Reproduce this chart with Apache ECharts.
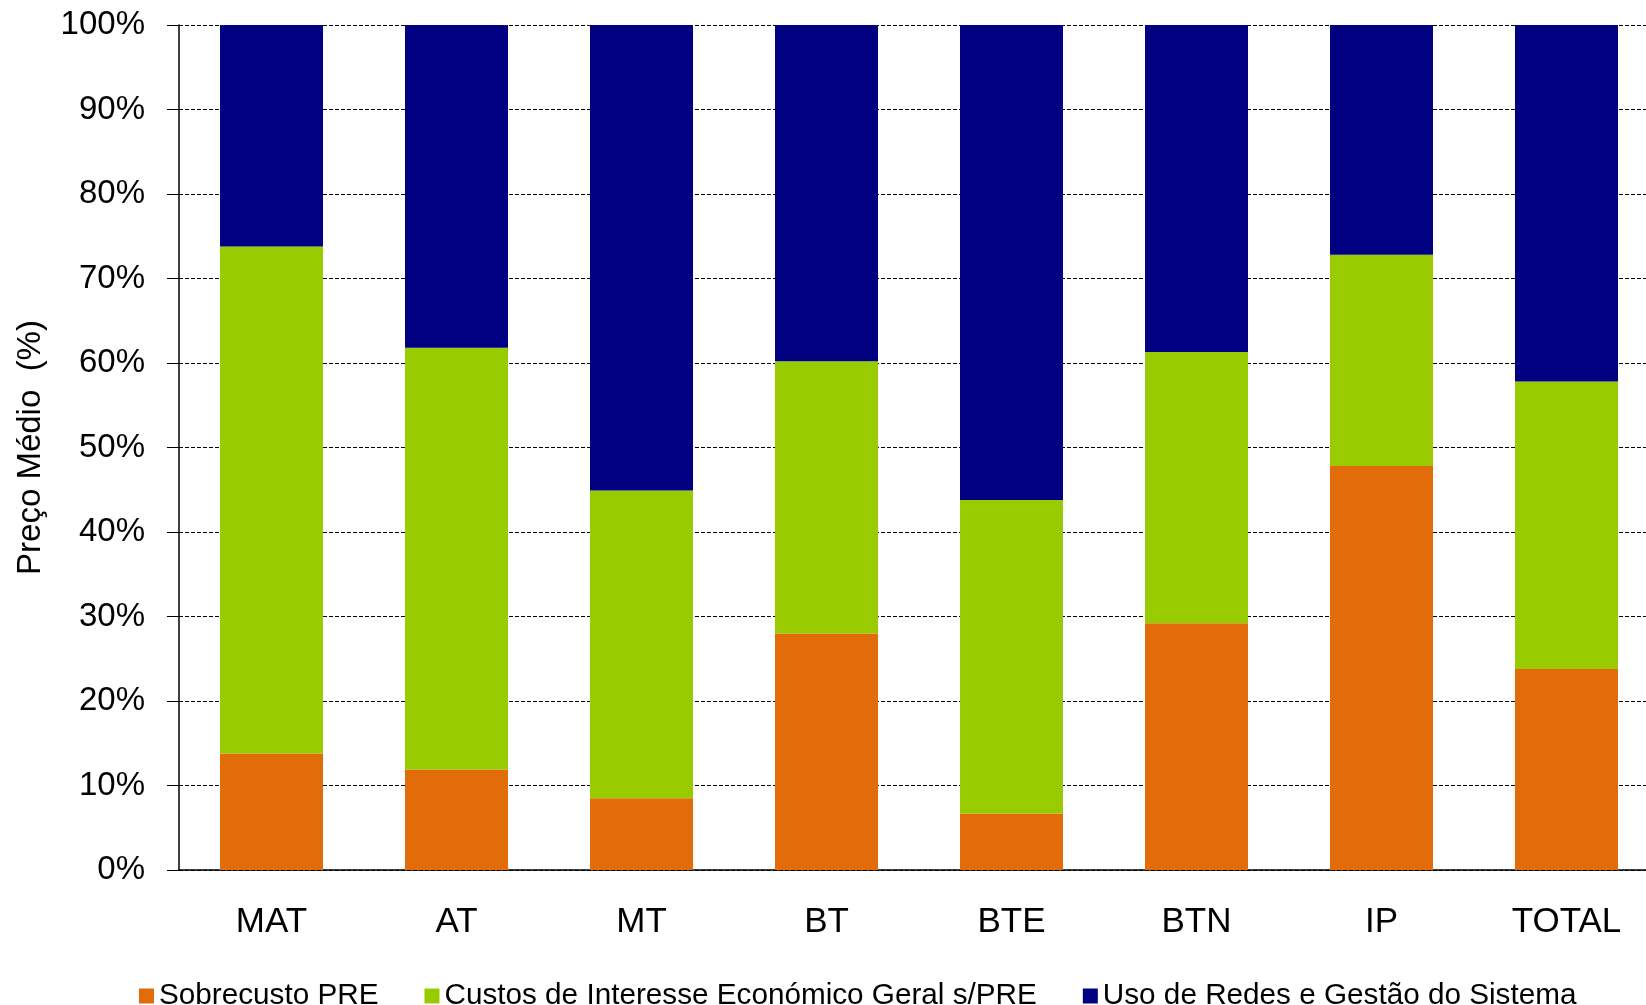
<!DOCTYPE html>
<html>
<head>
<meta charset="utf-8">
<script src="https://cdn.jsdelivr.net/npm/echarts@6/dist/echarts.min.js"></script>
<style>html,body{margin:0;padding:0;background:#fff;}#c{width:1646px;height:1005px;}</style>
</head>
<body>
<div id="c"></div>
<script>
const categories = ['MAT', 'AT', 'MT', 'BT', 'BTE', 'BTN', 'IP', 'TOTAL'];
const seriesNames = ['Sobrecusto PRE', 'Custos de Interesse Económico Geral s/PRE', 'Uso de Redes e Gestão do Sistema'];
const sobrecusto = [13.8, 11.9, 8.5, 28.0, 6.7, 29.2, 47.8, 23.8];
const custosCIEG = [60.0, 49.9, 36.4, 32.2, 37.1, 32.1, 25.0, 34.0];
const usoRedes = [26.2, 38.2, 55.1, 39.8, 56.2, 38.7, 27.2, 42.2];
const yTicks = [0, 10, 20, 30, 40, 50, 60, 70, 80, 90, 100];
const colors = ['#E36C0A', '#99CC00', '#000080'];

const font = '"Liberation Sans", Arial, sans-serif';
const chart = echarts.init(document.getElementById('c'), null, {renderer: 'canvas'});
const data = [sobrecusto, custosCIEG, usoRedes];
chart.setOption({
  animation: false,
  backgroundColor: '#fff',
  grid: {left: 179, top: 25, width: 1480, height: 845, containLabel: false, outerBoundsMode: 'none'},
  legend: {
    left: 134, top: 976,
    itemWidth: 15, itemHeight: 15, itemGap: 46,
    icon: 'rect',
    textStyle: {fontFamily: font, fontSize: 29.7, color: '#000'},
    data: seriesNames
  },
  xAxis: {
    type: 'category',
    data: categories,
    axisLine: {show: true, lineStyle: {color: '#000', width: 1.5}},
    axisTick: {show: false},
    axisLabel: {fontFamily: font, fontSize: 35, color: '#000', margin: 35}
  },
  yAxis: {
    type: 'value',
    min: yTicks[0], max: yTicks[yTicks.length - 1], interval: 10,
    name: 'Preço Médio  (%)',
    nameLocation: 'middle',
    nameGap: 132,
    nameRotate: 90,
    nameTextStyle: {fontFamily: font, fontSize: 33, color: '#000'},
    axisLine: {show: true, lineStyle: {color: '#000', width: 1.5}},
    axisTick: {show: true, inside: false, length: 12, lineStyle: {color: '#000'}},
    axisLabel: {fontFamily: font, fontSize: 33, color: '#000', margin: 34, formatter: v => v + '%'},
    splitLine: {show: true, lineStyle: {color: '#000', width: 1, type: [4, 2]}}
  },
  series: seriesNames.map((n, i) => ({
    name: n,
    type: 'bar',
    stack: 'total',
    barWidth: 103,
    itemStyle: {color: colors[i]},
    data: data[i]
  }))
});
</script>
</body>
</html>
